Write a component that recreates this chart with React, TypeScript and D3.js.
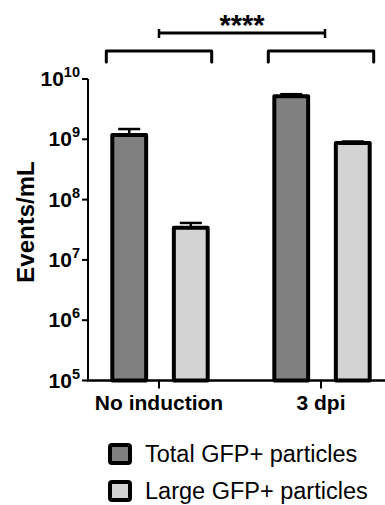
import React from 'react';
import * as d3 from 'd3';

const groups = ["No induction", "3 dpi"];
const seriesNames = ["Total GFP+ particles", "Large GFP+ particles"];
const seriesColors = ["#808080", "#d3d3d3"];
// mean and upper error per group, per series
const totalMeans = [1.18e9, 5.2e9];
const totalErr = [1.48e9, 5.6e9];
const largeMeans = [3.4e7, 8.7e8];
const largeErr = [4.1e7, 9.2e8];
const yTicks = [5, 6, 7, 8, 9, 10];

const W = 385, H = 505;
const font = "'Liberation Sans', Arial, sans-serif";

const App = () => {
    const axisLeft = 88;
    const y = d3.scaleLog().domain([1e5, 1e10]).range([380.5, 79]);
    const x0 = d3.scaleBand().domain(groups).range([78, 402]);
    const x1 = d3.scaleBand().domain(seriesNames).range([22, 142]).paddingInner(0.45).paddingOuter(0.2);

    const bars = groups.flatMap((g, i) => [
        { g, s: seriesNames[0], v: totalMeans[i], e: totalErr[i], c: seriesColors[0] },
        { g, s: seriesNames[1], v: largeMeans[i], e: largeErr[i], c: seriesColors[1] },
    ]);

    const gc = (g) => x0(g) + x0.bandwidth() / 2;
    const bw = x1.bandwidth();

    // group brackets span both bars of each group
    const bracket = (g) => {
        const l = x0(g) + x1(seriesNames[0]) - 6;
        const r = x0(g) + x1(seriesNames[1]) + bw + 4;
        return `M${l},62 V51 H${r} V62`;
    };
    const sigL = gc(groups[0]), sigR = gc(groups[1]) + 4;

    return (
        <svg width={W} height={H} style={{ position: 'absolute', left: 0, top: 0, fontFamily: font }}>
            {/* brackets + significance */}
            {groups.map(g => (
                <path key={g} d={bracket(g)} fill="none" stroke="#000" strokeWidth={3} strokeLinejoin="round" strokeLinecap="round" />
            ))}
            <line x1={sigL} x2={sigR} y1={33} y2={33} stroke="#000" strokeWidth={3} />
            <line x1={sigL} x2={sigL} y1={29} y2={38} stroke="#000" strokeWidth={2.5} />
            <line x1={sigR} x2={sigR} y1={29} y2={38} stroke="#000" strokeWidth={2.5} />
            <text x={(sigL + sigR) / 2} y={35} textAnchor="middle" fontSize={29} fontWeight="bold">****</text>

            {/* bars */}
            {bars.map((b, i) => {
                const bx = x0(b.g) + x1(b.s);
                const cx = bx + bw / 2;
                return (
                    <g key={i}>
                        <line x1={cx} x2={cx} y1={y(b.v)} y2={y(b.e)} stroke="#000" strokeWidth={2.5} />
                        <line x1={cx - 11} x2={cx + 11} y1={y(b.e)} y2={y(b.e)} stroke="#000" strokeWidth={2.5} />
                        <rect x={bx} y={y(b.v)} width={bw} height={y(1e5) - y(b.v)} fill={b.c}
                            stroke="#000" strokeWidth={4} strokeLinejoin="round" />
                    </g>
                );
            })}

            {/* y axis */}
            <line x1={axisLeft} x2={axisLeft} y1={y(1e10)} y2={y(1e5)} stroke="#000" strokeWidth={2} />
            {yTicks.map(t => (
                <g key={t}>
                    <line x1={axisLeft - 6} x2={axisLeft} y1={y(Math.pow(10, t))} y2={y(Math.pow(10, t))} stroke="#000" strokeWidth={2} />
                    <text x={80} y={y(Math.pow(10, t)) + 7} textAnchor="end" fontWeight="bold" fontSize={21}>
                        10<tspan fontSize={14.5} dy={-9}>{t}</tspan>
                    </text>
                </g>
            ))}
            <text transform="translate(34,222) rotate(-90)" textAnchor="middle" fontWeight="bold" fontSize={24}>Events/mL</text>

            {/* x axis */}
            <line x1={axisLeft - 1} x2={W} y1={y(1e5)} y2={y(1e5)} stroke="#000" strokeWidth={2.5} />
            {groups.map(g => (
                <g key={g}>
                    <line x1={gc(g)} x2={gc(g)} y1={y(1e5)} y2={y(1e5) + 8} stroke="#000" strokeWidth={2} />
                    <text x={gc(g)} y={410} textAnchor="middle" fontWeight="bold" fontSize={21}>{g}</text>
                </g>
            ))}

            {/* legend */}
            {seriesNames.map((s, i) => (
                <g key={s} transform={`translate(110,${445 + i * 37})`}>
                    <rect width={20} height={18} fill={seriesColors[i]} stroke="#000" strokeWidth={4} rx={2} />
                    <text x={35} y={17} fontSize={23.5}>{s}</text>
                </g>
            ))}
        </svg>
    );
};

export default App;
